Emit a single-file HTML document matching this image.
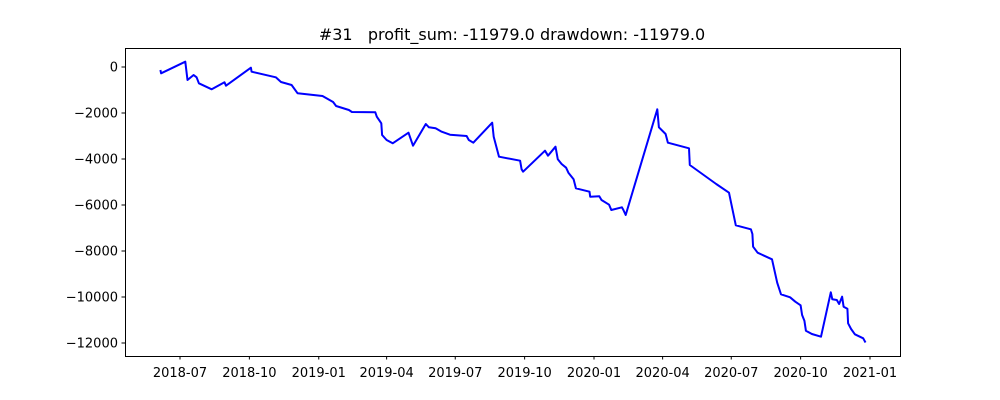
<!DOCTYPE html>
<html><head><meta charset="utf-8"><style>
html,body{margin:0;padding:0;background:#fff;}
svg{display:block;font-family:"DejaVu Sans","Liberation Sans",sans-serif;}
.pre{white-space:pre;}
</style></head><body>
<svg id="chart" width="1000" height="400" viewBox="0 0 1000 400" xmlns="http://www.w3.org/2000/svg">
<rect width="1000" height="400" fill="#fff"/>
<text class="pre" xml:space="preserve" x="512" y="40" text-anchor="middle" font-size="16">#31   profit_sum: -11979.0 drawdown: -11979.0</text>
<g id="grid"></g>
<rect x="125.5" y="48.5" width="775" height="308" fill="none" stroke="#000" stroke-width="1"/>
</svg>
<script>
// days since 2018-07-01
const days=[-26,-25,7,10,18,22,25,42,59,61,94,95,127,134,148,156,189,203,207,224,228,259,261,267,268,274,282,303,309,326,330,339,347,358,380,383,389,414,416,423,451,453,455,484,488,498,501,506,512,515,522,525,543,544,556,559,569,572,586,588,591,633,635,644,647,675,676,711,728,731,737,757,759,760,766,785,792,797,809,816,823,825,828,830,838,850,863,865,871,874,878,880,885,886,890,895,906,909];
const profit=[-130,-274,230,-565,-348,-448,-709,-970,-665,-813,-30,-204,-448,-652,-783,-1143,-1261,-1522,-1696,-1870,-1957,-1970,-2161,-2448,-2957,-3174,-3317,-2857,-3422,-2478,-2622,-2665,-2813,-2944,-3000,-3174,-3291,-2422,-3030,-3900,-4074,-4448,-4552,-3639,-3857,-3465,-4013,-4217,-4378,-4596,-4883,-5274,-5422,-5639,-5622,-5783,-5987,-6217,-6100,-6217,-6435,-1839,-2622,-2913,-3291,-3535,-4261,-5087,-5465,-5926,-6883,-7057,-7261,-7813,-8074,-8361,-9378,-9883,-10013,-10204,-10361,-10783,-11030,-11465,-11609,-11726,-9796,-10100,-10130,-10304,-9987,-10422,-10509,-11143,-11391,-11622,-11796,-11979];
const xTickDays=[0,92,184,274,365,457,549,640,731,823,915];
const xTickLabels=["2018-07","2018-10","2019-01","2019-04","2019-07","2019-10","2020-01","2020-04","2020-07","2020-10","2021-01"];
const yTicks=[0,-2000,-4000,-6000,-8000,-10000,-12000];
const yTickLabels=["0","\u22122000","\u22124000","\u22126000","\u22128000","\u221210000","\u221212000"];

const NS="http://www.w3.org/2000/svg";
const svg=document.getElementById('chart');
const X=d=>180+d*0.7541;
const Y=v=>67-v*0.023;
function mk(tag,attrs){const e=document.createElementNS(NS,tag);for(const k in attrs)e.setAttribute(k,attrs[k]);svg.appendChild(e);return e;}

xTickDays.forEach((d,i)=>{
  const x=X(d);
  const t=mk('line',{x1:x,x2:x,y1:356,y2:359.5,stroke:'#000','stroke-width':1});
  
  
  const l=mk('text',{x:x,y:377,'text-anchor':'middle','font-size':13});
  
  
  l.textContent=xTickLabels[i];
});
yTicks.forEach((v,i)=>{
  const y=Y(v);
  const t=mk('line',{x1:121.5,x2:125,y1:y,y2:y,stroke:'#000','stroke-width':1});
  
  
  const l=mk('text',{x:118,y:y+4.5,'text-anchor':'end','font-size':13});
  
  
  l.textContent=yTickLabels[i];
});
const pts=days.map((d,i)=>X(d).toFixed(1)+','+Y(profit[i]).toFixed(1)).join(' ');
const line=mk('polyline',{points:pts,fill:'none',stroke:'#0000ff','stroke-width':2,'stroke-linejoin':'round'});


</script>
</body></html>
